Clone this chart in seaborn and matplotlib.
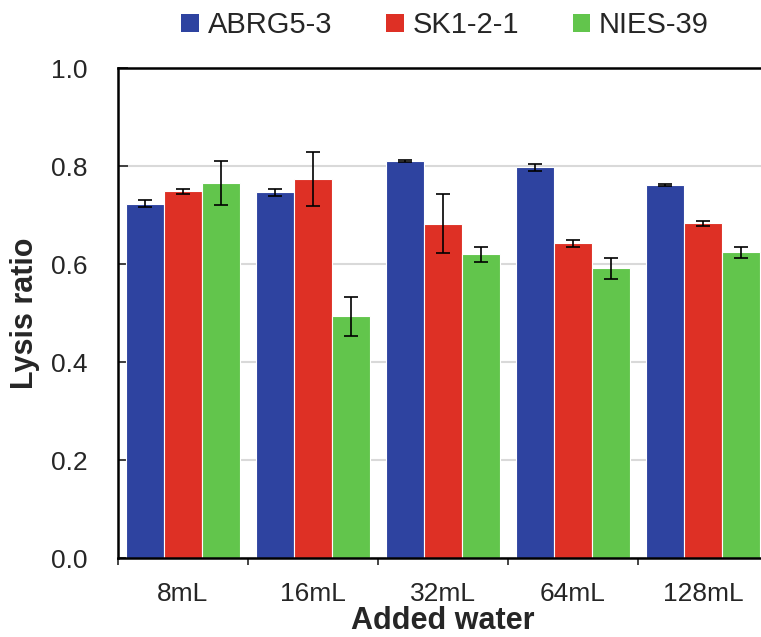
import pandas as pd
import seaborn as sns
import matplotlib.pyplot as plt
from matplotlib.patches import Patch
from matplotlib.ticker import FixedLocator

# Data
water = ['8mL', '16mL', '32mL', '64mL', '128mL']
strains = ['ABRG5-3', 'SK1-2-1', 'NIES-39']
abrg = [0.723, 0.746, 0.810, 0.797, 0.762]
sk = [0.748, 0.774, 0.682, 0.642, 0.683]
nies = [0.765, 0.493, 0.620, 0.591, 0.624]
abrg_err = [0.007, 0.0075, 0.002, 0.0075, 0.002]
sk_err = [0.006, 0.055, 0.060, 0.007, 0.005]
nies_err = [0.045, 0.040, 0.015, 0.022, 0.011]

colors = ['#2E43A0', '#DE3025', '#62C54C']

df = pd.DataFrame({
    'Added water': water * 3,
    'Lysis ratio': abrg + sk + nies,
    'Strain': [s for s in strains for _ in water],
})
errs = [abrg_err, sk_err, nies_err]

sns.set_style("white")
plt.rcParams['font.family'] = ['Liberation Sans', 'DejaVu Sans']

fig = plt.figure(figsize=(7.61, 6.37), dpi=100)
# axes runs a little past the right edge, like the cropped original
ax = fig.add_axes([118 / 761, 1 - 558 / 637, 650 / 761, 490 / 637])

sns.barplot(data=df, x='Added water', y='Lysis ratio', hue='Strain',
            palette=colors, saturation=1, width=0.87, errorbar=None,
            edgecolor='white', linewidth=0.8, ax=ax, legend=False)

# error bars on each bar
for cont, e in zip(ax.containers, errs):
    xs = [p.get_x() + p.get_width() / 2 for p in cont]
    ys = [p.get_height() for p in cont]
    ax.errorbar(xs, ys, yerr=e, fmt='none', ecolor='black',
                elinewidth=1.2, capsize=5, capthick=1.2, zorder=5)

ax.set_ylim(0, 1.0)
ax.set_xlim(-0.5, 4.5)
ax.set_yticks([0.0, 0.2, 0.4, 0.6, 0.8, 1.0])
ax.set_yticklabels(['0.0', '0.2', '0.4', '0.6', '0.8', '1.0'])
ax.yaxis.grid(True, color='#d9d9d9', linewidth=1.5)
ax.set_axisbelow(True)

ax.tick_params(axis='y', direction='in', length=7, width=1.2,
               labelsize=19, pad=22, left=True)
ax.tick_params(axis='x', which='major', length=0, labelsize=19, pad=17)
ax.xaxis.set_minor_locator(FixedLocator([-0.5, 0.5, 1.5, 2.5, 3.5, 4.5]))
ax.tick_params(axis='x', which='minor', direction='out', length=5,
               width=1.2, bottom=True)

for side in ['left', 'top', 'bottom', 'right']:
    ax.spines[side].set_visible(True)
    ax.spines[side].set_color('black')
    ax.spines[side].set_linewidth(1.8)

ax.set_xlabel('Added water', fontsize=22, fontweight='bold', labelpad=0)
ax.set_ylabel('Lysis ratio', fontsize=22, fontweight='bold', labelpad=8)

handles = [Patch(facecolor=c, edgecolor='none') for c in colors]
fig.legend(handles, strains, loc='center', bbox_to_anchor=(0.585, 0.96),
           ncol=3, frameon=False, fontsize=21, handlelength=0.6,
           handleheight=0.6, handletextpad=0.3, columnspacing=1.85)

plt.savefig('out.png', dpi=100)
